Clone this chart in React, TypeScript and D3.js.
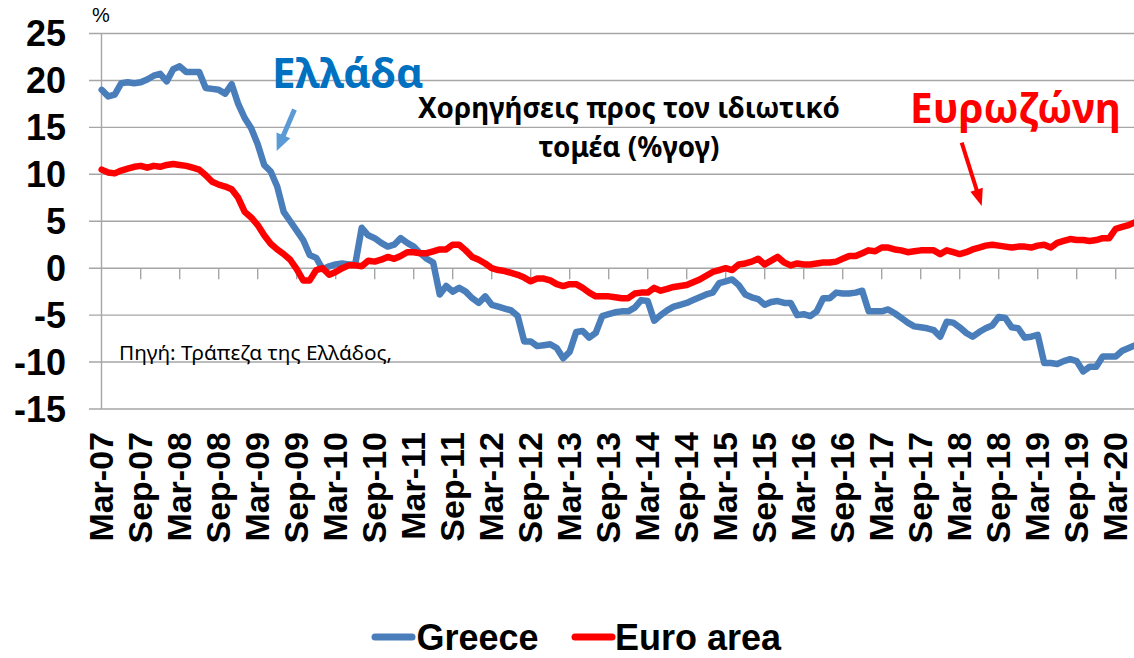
import React from "react";
import * as d3 from "d3";

// ---------- data ----------
const months: Date[] = d3.timeMonth.range(new Date(2007, 2, 1), new Date(2020, 6, 1)); // Mar-07 .. Jun-20
const fmt = d3.timeFormat("%b-%y");
const categories: string[] = months.map((m) => fmt(m));

const greece: number[] = [
  19.0, 18.3, 18.5, 19.7, 19.8, 19.7, 19.8, 20.1, 20.5, 20.7,
  19.9, 21.2, 21.5, 20.9, 20.9, 20.9, 19.2, 19.1, 19.0, 18.6,
  19.6, 17.5, 16.0, 14.9, 13.2, 11.0, 10.3, 8.7, 6.0, 5.0,
  4.0, 3.0, 1.4, 1.1, -0.1, 0.2, 0.4, 0.5, 0.4, 0.4,
  4.3, 3.5, 3.2, 2.7, 2.3, 2.5, 3.2, 2.7, 2.3, 1.6,
  1.0, 0.6, -2.8, -1.9, -2.5, -2.1, -2.5, -3.2, -3.7, -3.0,
  -3.9, -4.1, -4.3, -4.5, -5.1, -7.8, -7.8, -8.3, -8.2, -8.1,
  -8.5, -9.6, -8.9, -6.8, -6.7, -7.4, -6.9, -5.1, -4.9, -4.7,
  -4.6, -4.6, -4.2, -3.4, -3.5, -5.6, -5.0, -4.5, -4.1, -3.9,
  -3.7, -3.4, -3.1, -2.8, -2.6, -1.6, -1.4, -1.2, -1.8, -2.8,
  -3.1, -3.3, -3.9, -3.6, -3.5, -3.7, -3.7, -5.0, -4.9, -5.1,
  -4.6, -3.2, -3.2, -2.6, -2.7, -2.7, -2.6, -2.4, -4.6, -4.6,
  -4.6, -4.4, -4.8, -5.3, -5.8, -6.2, -6.3, -6.4, -6.6, -7.3,
  -5.7, -5.8, -6.3, -6.9, -7.3, -6.8, -6.4, -6.1, -5.2, -5.3,
  -6.3, -6.4, -7.4, -7.3, -7.1, -10.1, -10.1, -10.2, -9.9, -9.7,
  -9.9, -11.0, -10.5, -10.5, -9.4, -9.4, -9.4, -8.8, -8.5, -8.2,
];

const euroArea: number[] = [
  10.5, 10.2, 10.1, 10.4, 10.6, 10.8, 10.9, 10.7, 10.9, 10.8,
  11.0, 11.1, 11.0, 10.9, 10.7, 10.5, 9.9, 9.2, 8.9, 8.7,
  8.4, 7.5, 6.0, 5.4, 4.6, 3.5, 2.6, 2.0, 1.5, 0.9,
  -0.1, -1.3, -1.3, -0.2, 0.0, -0.7, -0.4, 0.0, 0.3, 0.3,
  0.2, 0.8, 0.7, 0.9, 1.2, 1.0, 1.3, 1.7, 1.7, 1.6,
  1.6, 1.8, 2.0, 2.0, 2.5, 2.5, 1.9, 1.2, 0.9, 0.5,
  0.0, -0.2, -0.3, -0.5, -0.7, -1.0, -1.4, -1.1, -1.1, -1.3,
  -1.7, -1.9, -1.7, -1.7, -2.1, -2.6, -3.0, -3.0, -3.0, -3.1,
  -3.2, -3.2, -2.7, -2.6, -2.6, -2.1, -2.4, -2.2, -2.0, -1.9,
  -1.8, -1.5, -1.2, -0.8, -0.4, -0.2, 0.0, -0.2, 0.4, 0.5,
  0.7, 1.0, 0.4, 0.8, 1.2, 0.6, 0.3, 0.5, 0.4, 0.4,
  0.5, 0.6, 0.6, 0.7, 1.0, 1.3, 1.3, 1.6, 1.9, 1.8,
  2.2, 2.2, 2.0, 1.9, 1.7, 1.8, 1.9, 1.9, 1.9, 1.5,
  1.9, 1.7, 1.5, 1.7, 2.0, 2.2, 2.4, 2.5, 2.4, 2.3,
  2.2, 2.3, 2.3, 2.2, 2.4, 2.5, 2.2, 2.7, 2.9, 3.1,
  3.0, 3.0, 2.9, 3.0, 3.2, 3.2, 4.2, 4.4, 4.6, 4.9,
];

const yTicks: number[] = [25, 20, 15, 10, 5, 0, -5, -10, -15];
const xTickLabels: string[] = [
  "Mar-07", "Sep-07", "Mar-08", "Sep-08", "Mar-09", "Sep-09", "Mar-10", "Sep-10",
  "Mar-11", "Sep-11", "Mar-12", "Sep-12", "Mar-13", "Sep-13", "Mar-14", "Sep-14",
  "Mar-15", "Sep-15", "Mar-16", "Sep-16", "Mar-17", "Sep-17", "Mar-18", "Sep-18",
  "Mar-19", "Sep-19", "Mar-20",
];
const seriesNames: string[] = ["Greece", "Euro area"];

// ---------- layout ----------
const W = 1134;
const H = 658;
const BLUE = "#4a7ebb";
const RED = "#ff0000";
const GRID = "#a6a6a6";

const x = d3
  .scalePoint<string>()
  .domain(categories)
  .range([101.7, 101.7 + (categories.length - 1) * 6.5]);
const y = d3.scaleLinear().domain([-15, 25]).range([409, 33.5]);

const lineGen = d3
  .line<number>()
  .x((_, i) => x(categories[i]) as number)
  .y((d) => y(d));

function arrowHead(x1: number, y1: number, x2: number, y2: number, len: number, w: number) {
  const dx = x2 - x1;
  const dy = y2 - y1;
  const L = Math.hypot(dx, dy);
  const ux = dx / L;
  const uy = dy / L;
  const bx = x2 - ux * len;
  const by = y2 - uy * len;
  const px = -uy;
  const py = ux;
  return {
    shaftEnd: [bx + ux * 2, by + uy * 2],
    poly: `${x2},${y2} ${bx + px * w / 2},${by + py * w / 2} ${bx - px * w / 2},${by - py * w / 2}`,
  };
}

export default function App() {
  const blueArrow = arrowHead(294.5, 109.5, 276.7, 151, 17, 15);
  const redArrow = arrowHead(961.7, 142.7, 981.7, 206, 17, 13);
  const zeroY = y(0);
  const tickIdx = categories.map((_, i) => i).filter((i) => i > 0 && i % 6 === 0);

  return (
    <svg
      width={W}
      height={H}
      viewBox={`0 0 ${W} ${H}`}
      style={{ position: "absolute", left: 0, top: 0, background: "#fff" }}
      fontFamily="'Liberation Sans', Arial, sans-serif"
    >
      <rect x={0} y={0} width={W} height={H} fill="#fff" />

      {/* gridlines */}
      {yTicks.map((t) => (
        <line key={t} x1={89} x2={W} y1={y(t)} y2={y(t)} stroke={GRID} strokeWidth={1.4} />
      ))}
      {/* y axis */}
      <line x1={101.5} x2={101.5} y1={y(25)} y2={y(-15)} stroke={GRID} strokeWidth={1.4} />
      {/* x tick marks at zero line */}
      {tickIdx.map((i) => (
        <line
          key={i}
          x1={x(categories[i]) as number}
          x2={x(categories[i]) as number}
          y1={zeroY}
          y2={zeroY + 11}
          stroke={GRID}
          strokeWidth={1.4}
        />
      ))}

      {/* y labels */}
      {yTicks.map((t) => (
        <text
          key={t}
          x={66}
          y={y(t)}
          dy="0.36em"
          textAnchor="end"
          fontSize={36}
          fontWeight="bold"
          fill="#000"
        >
          {t}
        </text>
      ))}
      <text x={92} y={22} fontSize={20} fill="#000">%</text>

      {/* x labels */}
      {xTickLabels.map((lab) => {
        const px = x(lab) as number;
        return (
          <text
            key={lab}
            transform={`translate(${px + 11},432) rotate(-90)`}
            textAnchor="end"
            fontSize={34}
            fontWeight="bold"
            fill="#000"
          >
            {lab}
          </text>
        );
      })}

      {/* series */}
      <path d={lineGen(greece) || ""} fill="none" stroke={BLUE} strokeWidth={6.5} strokeLinejoin="round" strokeLinecap="round" />
      <path d={lineGen(euroArea) || ""} fill="none" stroke={RED} strokeWidth={6.5} strokeLinejoin="round" strokeLinecap="round" />

      {/* annotations */}
      <text x={272} y={88.3} fontSize={42} fontWeight="bold" fill="#0070c0" fontFamily="'Noto Sans', sans-serif">Ελλάδα</text>
      <line x1={294.5} y1={109.5} x2={blueArrow.shaftEnd[0]} y2={blueArrow.shaftEnd[1]} stroke="#5b9bd5" strokeWidth={5} />
      <polygon points={blueArrow.poly} fill="#5b9bd5" />

      <text x={910} y={122.7} fontSize={40.5} fontWeight="bold" fill={RED} fontFamily="'Noto Sans', sans-serif">Ευρωζώνη</text>
      <line x1={961.7} y1={142.7} x2={redArrow.shaftEnd[0]} y2={redArrow.shaftEnd[1]} stroke={RED} strokeWidth={4} />
      <polygon points={redArrow.poly} fill={RED} />

      <text x={629} y={118} textAnchor="middle" fontSize={27.8} fontWeight="bold" fill="#000" fontFamily="'Noto Sans', sans-serif">
        Χορηγήσεις προς τον ιδιωτικό
      </text>
      <text x={629} y={157} textAnchor="middle" fontSize={27.8} fontWeight="bold" fill="#000" fontFamily="'Noto Sans', sans-serif">
        τομέα (%γογ)
      </text>

      <text x={119} y={360} fontSize={20.8} fill="#000" fontFamily="'Noto Sans', sans-serif">
        Πηγή: Τράπεζα της Ελλάδος,
      </text>

      {/* legend */}
      <line x1={375} x2={412} y1={637} y2={637} stroke={BLUE} strokeWidth={7} strokeLinecap="round" />
      <text x={416.5} y={650} fontSize={36} fontWeight="bold" fill="#000">{seriesNames[0]}</text>
      <line x1={575} x2={612} y1={637} y2={637} stroke={RED} strokeWidth={7} strokeLinecap="round" />
      <text x={615} y={650} fontSize={36} fontWeight="bold" fill="#000">{seriesNames[1]}</text>
    </svg>
  );
}
